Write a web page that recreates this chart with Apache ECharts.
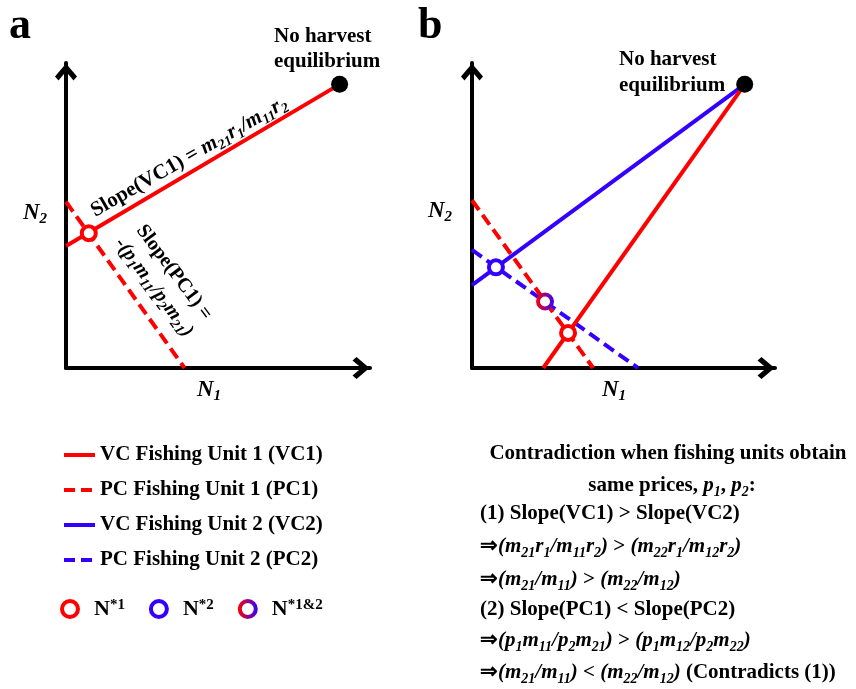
<!DOCTYPE html>
<html>
<head>
<meta charset="utf-8">
<script src="https://cdn.jsdelivr.net/npm/echarts@6/dist/echarts.min.js"></script>
<style>
  html, body { margin: 0; padding: 0; background: #fff; }
  #chart { width: 856px; height: 689px; }
</style>
</head>
<body>
<div id="chart"></div>
<script>
// ---- Conceptual coordinates (N1, N2) for panel a ----
const vc1A = [[0, 4.0], [9.0, 9.3]];
const pc1A = [[0, 5.45], [3.9, 0]];
const eqA = [[9.0, 9.3]];
const nStar1A = [[0.75, 4.42]];

// ---- Panel b ----
const vc1B = [[2.35, 0], [9.0, 9.3]];
const vc2B = [[0, 2.72], [9.0, 9.3]];
const pc1B = [[0, 5.5], [4.0, 0]];
const pc2B = [[0, 3.87], [5.48, 0]];
const eqB = [[9.0, 9.3]];
const nStar1B = [[3.17, 1.15]];
const nStar2B = [[0.79, 3.3]];
const nStar12B = [[2.41, 2.18]];

// Axis extents (both panels share the same scale)
const axisMax = 10;

// Legend entries
const lineLegend = ['VC Fishing Unit 1 (VC1)', 'PC Fishing Unit 1 (PC1)', 'VC Fishing Unit 2 (VC2)', 'PC Fishing Unit 2 (PC2)'];
const lineLegendDashed = [false, true, false, true];
const lineLegendColor = ['#ff0000', '#ff0000', '#3300ff', '#3300ff'];
const pointLegend = ['N*1', 'N*2', 'N*1&2'];
const pointLegendRich = { 'N*1': '{n|N}{sup|*1}', 'N*2': '{n|N}{sup|*2}', 'N*1&2': '{n|N}{sup|*1&2}' };

const FONT = '"Liberation Serif", "Times New Roman", serif';
const RED = '#ff0000';
const BLUE = '#3300ff';
const DASH = [12, 6];

const chart = echarts.init(document.getElementById('chart'), null, { renderer: 'canvas' });

// open chevron used as the axis arrow head (points "up" along the axis)
const chevron = 'path://M11,0 L22,13 L18.5,17 L11,8 L3.5,17 L0,13 Z';

function makeAxis(gridIndex) {
  return {
    type: 'value', gridIndex: gridIndex, min: 0, max: axisMax,
    axisLine: {
      show: true, onZero: false,
      lineStyle: { color: '#000', width: 4 },
      symbol: ['none', chevron], symbolSize: [22, 18], symbolOffset: [0, -9]
    },
    axisTick: { show: false }, axisLabel: { show: false }, splitLine: { show: false }
  };
}

function lineSeries(name, data, color, dashed, axisIdx) {
  return {
    type: 'line', name: name, data: data, xAxisIndex: axisIdx, yAxisIndex: axisIdx,
    symbol: 'none', showSymbol: false, clip: false, silent: true, z: 2,
    lineStyle: { color: color, width: 4, type: dashed ? DASH : 'solid' },
    itemStyle: { color: color }
  };
}

const mixGradient = new echarts.graphic.LinearGradient(0, 0, 1, 0, [
  { offset: 0, color: RED }, { offset: 1, color: BLUE }
]);

function ringSeries(name, data, border, axisIdx) {
  return {
    type: 'scatter', name: name, data: data, xAxisIndex: axisIdx, yAxisIndex: axisIdx,
    symbol: 'circle', symbolSize: 14, clip: false, z: 5,
    itemStyle: { color: '#fff', borderColor: border, borderWidth: 4, opacity: 1 }
  };
}

function dotSeries(data, axisIdx) {
  return {
    type: 'scatter', name: 'equilibrium', data: data, xAxisIndex: axisIdx, yAxisIndex: axisIdx,
    symbol: 'circle', symbolSize: 17, clip: false, z: 6,
    itemStyle: { color: '#000', opacity: 1 }
  };
}

// rich text styles for annotations
function richSet(size) {
  return {
    t: { fontFamily: FONT, fontWeight: 'bold', fontSize: size, lineHeight: size + 5, fill: '#000' },
    i: { fontFamily: FONT, fontWeight: 'bold', fontStyle: 'italic', fontSize: size, lineHeight: size + 5, fill: '#000' },
    s: { fontFamily: FONT, fontWeight: 'bold', fontStyle: 'italic', fontSize: Math.round(size * 0.68), lineHeight: Math.round(size * 0.68), verticalAlign: 'bottom', fill: '#000' },
    n: { fontFamily: FONT, fontWeight: 'bold', fontStyle: 'italic', fontSize: 23, lineHeight: 27, fill: '#000' },
    ns: { fontFamily: FONT, fontWeight: 'bold', fontStyle: 'italic', fontSize: 15, lineHeight: 15, verticalAlign: 'bottom', fill: '#000' }
  };
}

function richText(x, y, text, size, align, rotation) {
  return {
    type: 'text', x: x, y: y, rotation: rotation || 0, z: 20, silent: true,
    style: {
      text: text, rich: richSet(size), fill: '#000',
      font: 'bold ' + size + 'px ' + FONT,
      align: align, verticalAlign: 'middle',
      textAlign: align, textVerticalAlign: 'middle'
    }
  };
}

function plainText(x, y, text, size, lineHeight) {
  return {
    type: 'text', x: x, y: y, z: 20, silent: true,
    style: {
      text: text, fill: '#000', font: 'bold ' + size + 'px ' + FONT, lineHeight: lineHeight,
      align: 'left', verticalAlign: 'top', textAlign: 'left', textVerticalAlign: 'top'
    }
  };
}

const noteLines = [
  '{t|(1) Slope(VC1) > Slope(VC2)}',
  '{t|⇒}{i|(m}{s|21}{i|r}{s|1}{i|/m}{s|11}{i|r}{s|2}{i|)}{t| > }{i|(m}{s|22}{i|r}{s|1}{i|/m}{s|12}{i|r}{s|2}{i|)}',
  '{t|⇒}{i|(m}{s|21}{i|/m}{s|11}{i|)}{t| > }{i|(m}{s|22}{i|/m}{s|12}{i|)}',
  '{t|(2) Slope(PC1) < Slope(PC2)}',
  '{t|⇒}{i|(p}{s|1}{i|m}{s|11}{i|/p}{s|2}{i|m}{s|21}{i|)}{t| > }{i|(p}{s|1}{i|m}{s|12}{i|/p}{s|2}{i|m}{s|22}{i|)}',
  '{t|⇒}{i|(m}{s|21}{i|/m}{s|11}{i|)}{t| < }{i|(m}{s|22}{i|/m}{s|12}{i|)}{t| (Contradicts (1))}'
];
const noteY = [514, 547, 580, 610, 641, 673];

const graphics = [
  plainText(9, 5, 'a', 44, 44),
  plainText(418, 5, 'b', 44, 44),
  plainText(274, 24, 'No harvest\nequilibrium', 21, 25),
  plainText(619, 47, 'No harvest\nequilibrium', 21, 26),
  richText(197, 390, '{n|N}{ns|1}', 21, 'left'),
  richText(23, 213, '{n|N}{ns|2}', 21, 'left'),
  richText(602, 390, '{n|N}{ns|1}', 21, 'left'),
  richText(428, 211, '{n|N}{ns|2}', 21, 'left'),
  richText(189, 157, '{t|Slope(VC1) = }{i|m}{s|21}{i|r}{s|1}{i|/m}{s|11}{i|r}{s|2}', 21, 'center', 0.52),
  richText(164, 280, '{t|Slope(PC1) =}\n{i|-(p}{s|1}{i|m}{s|11}{i|/p}{s|2}{i|m}{s|21}{i|)}', 20, 'center', -0.93),
  richText(668, 454, '{t|Contradiction when fishing units obtain}', 21, 'center'),
  richText(672, 486, '{t|same prices, }{i|p}{s|1}{t|, }{i|p}{s|2}{t|:}', 21, 'center')
];
noteLines.forEach(function (line, k) {
  graphics.push(richText(480, noteY[k], line, 21, 'left'));
});

const option = {
  animation: false,
  backgroundColor: '#fff',
  grid: [
    { left: 66, top: 63, width: 304, height: 305 },
    { left: 472, top: 63, width: 303, height: 305 }
  ],
  xAxis: [makeAxis(0), makeAxis(1)],
  yAxis: [makeAxis(0), makeAxis(1)],
  legend: [
    {
      data: lineLegend.map(function (name, k) {
        return {
          name: name,
          itemStyle: { opacity: 0 },
          lineStyle: { color: lineLegendColor[k], width: 4, type: lineLegendDashed[k] ? [11, 6] : 'solid', opacity: 1 }
        };
      }),
      orient: 'vertical', left: 57, top: 439,
      itemWidth: 31, itemHeight: 14, itemGap: 13, selectedMode: false,
      textStyle: { fontFamily: FONT, fontWeight: 'bold', fontSize: 21, lineHeight: 22, color: '#000' }
    },
    {
      data: pointLegend, orient: 'horizontal', left: 55, top: 593,
      itemWidth: 38, itemHeight: 16, itemGap: 24, selectedMode: false,
      itemStyle: { borderWidth: 4 },
      formatter: function (name) { return pointLegendRich[name]; },
      textStyle: {
        fontFamily: FONT, fontWeight: 'bold', fontSize: 22, lineHeight: 22, color: '#000',
        rich: {
          n: { fontFamily: FONT, fontWeight: 'bold', fontSize: 22, lineHeight: 22, color: '#000' },
          sup: { fontFamily: FONT, fontWeight: 'bold', fontSize: 15, lineHeight: 13, verticalAlign: 'top', color: '#000' }
        }
      }
    }
  ],
  series: [
    lineSeries('VC Fishing Unit 1 (VC1)', vc1A, RED, false, 0),
    lineSeries('PC Fishing Unit 1 (PC1)', pc1A, RED, true, 0),
    ringSeries('N*1', nStar1A, RED, 0),
    dotSeries(eqA, 0),

    lineSeries('PC Fishing Unit 2 (PC2)', pc2B, BLUE, true, 1),
    lineSeries('PC Fishing Unit 1 (PC1)', pc1B, RED, true, 1),
    lineSeries('VC Fishing Unit 2 (VC2)', vc2B, BLUE, false, 1),
    lineSeries('VC Fishing Unit 1 (VC1)', vc1B, RED, false, 1),
    ringSeries('N*2', nStar2B, BLUE, 1),
    ringSeries('N*1&2', nStar12B, mixGradient, 1),
    ringSeries('N*1', nStar1B, RED, 1),
    dotSeries(eqB, 1)
  ],
  graphic: graphics
};

chart.setOption(option);
</script>
</body>
</html>
